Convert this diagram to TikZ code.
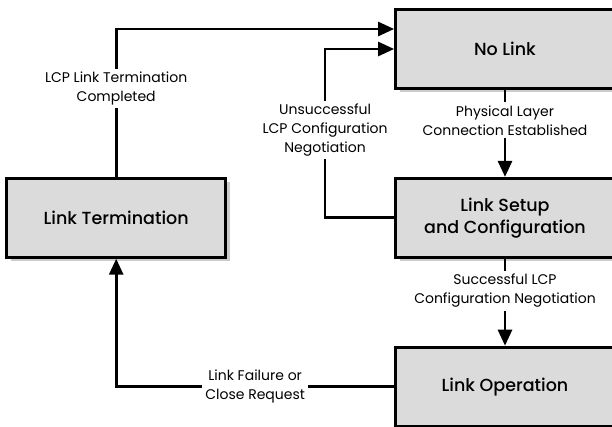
\documentclass[tikz,border=0pt]{standalone}
\usepackage{fontspec}
\setmainfont{Poppins}
\newfontfamily\boxfont{Poppins Medium}
\usetikzlibrary{positioning,arrows.meta,shadows}

\begin{document}
\begin{tikzpicture}[
x=1pt, y=1pt, node distance=86pt,
>={Triangle[length=16pt,width=14pt]},
state/.style={draw, line width=2.8pt, fill=gray!28, minimum width=219pt, minimum height=79pt,
  align=center, font=\boxfont\fontsize{17.5}{22}\selectfont,
  drop shadow={shadow xshift=4.5pt, shadow yshift=-4pt, fill=gray!40, opacity=1}},
flow/.style={->, line width=2.7pt},
lbl/.style={fill=white, align=center, inner sep=3pt, font=\fontsize{14}{19}\selectfont}
]
\useasboundingbox (0,0) rectangle (612,426);
\node[state] (nolink) at (505,377) {No Link};
\node[state, below=87pt of nolink] (setup) {Link Setup\\and Configuration};
\node[state, below=87pt of setup] (oper) {Link Operation};
\node[state, left=167pt of setup] (term) {Link Termination};
\draw[flow] (nolink) -- (setup) node[lbl, pos=0.35] {Physical Layer\\Connection Established};
\draw[flow] (setup) -- (oper) node[lbl, pos=0.37] {Successful LCP\\Configuration Negotiation};
\draw[flow] (oper.west) -| (term.south) node[lbl, pos=0.25] {Link Failure or\\Close Request};
\draw[flow] (term.north) |- ([yshift=20pt]nolink.west) node[lbl, pos=0.3] {LCP Link Termination\\Completed};
\draw[flow] (setup.west) -- ++(-69pt,0) |- (nolink.west) node[lbl, pos=0.26] {Unsuccessful\\LCP Configuration\\Negotiation};
\end{tikzpicture}
\end{document}
